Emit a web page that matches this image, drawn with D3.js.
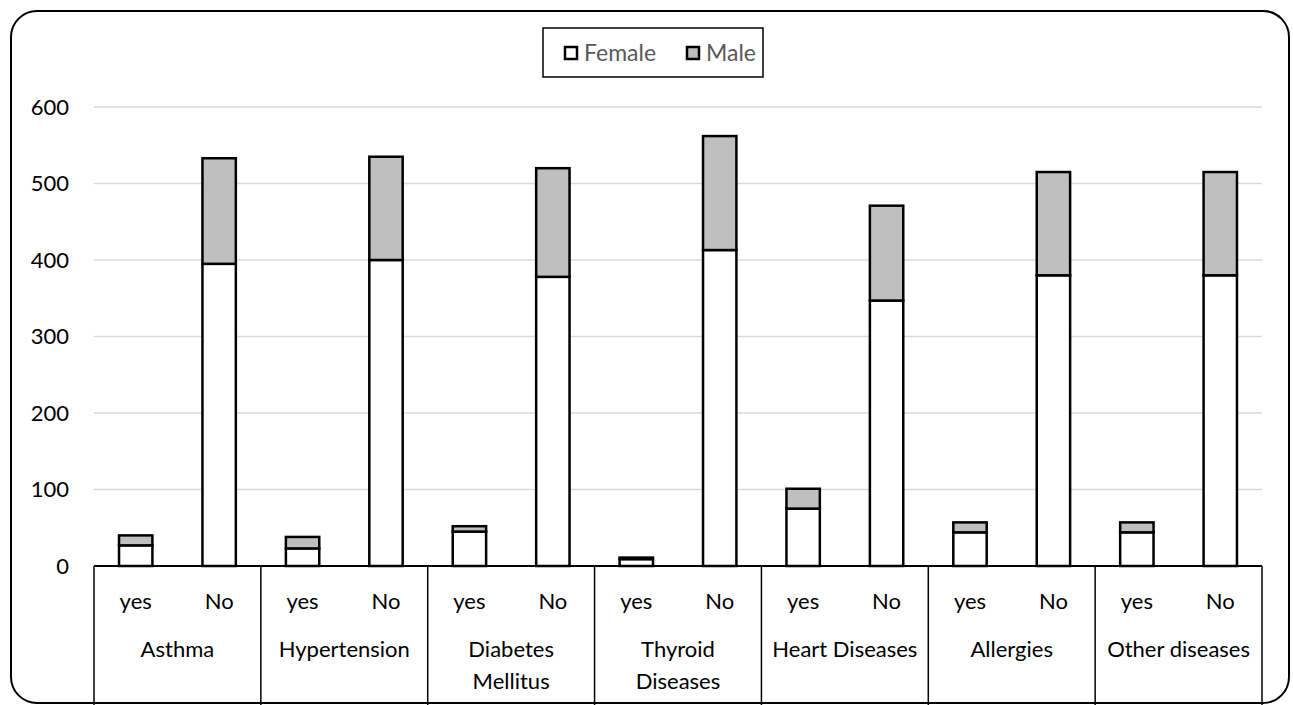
<!DOCTYPE html>
<html><head><meta charset="utf-8">
<script src="https://cdn.jsdelivr.net/npm/d3@7"></script>
<style>body{margin:0;background:#fff}svg{display:block}text{font-family:Lato,"Open Sans",sans-serif}</style>
</head><body>
<script>
const groups = ["Asthma","Hypertension","Diabetes Mellitus","Thyroid Diseases","Heart Diseases","Allergies","Other diseases"];
const groupLines = [["Asthma"],["Hypertension"],["Diabetes","Mellitus"],["Thyroid","Diseases"],["Heart Diseases"],["Allergies"],["Other diseases"]];
const answers = ["yes","No"];
const female = [27,395, 23,400, 45,378, 9,413, 75,347, 44,380, 44,380];
const male   = [13,138, 15,135, 7,142, 2,149, 26,124, 13,135, 13,135];
const yTicks = [0,100,200,300,400,500,600];
const seriesNames = ["Female","Male"];
const colors = ["#ffffff","#bfbfbf"];

const W=1293,H=705;
const svg=d3.select("body").append("svg").attr("width",W).attr("height",H);
svg.append("rect").attr("x",11).attr("y",11).attr("width",1278).attr("height",692).attr("rx",26)
  .attr("fill","#fff").attr("stroke","#000").attr("stroke-width",2);

const L=94,R=1262,T=107,B=566;
const y=d3.scaleLinear().domain([0,600]).range([B,T]);
const keys=[];groups.forEach((g,i)=>answers.forEach(a=>keys.push(i+"|"+a)));
const x=d3.scaleBand().domain(keys).range([L,R]).paddingInner(0.6).paddingOuter(0.3);
const gx=d3.scaleBand().domain(groups).range([L,R]);

// gridlines
svg.append("g").selectAll("line").data(yTicks.filter(d=>d>0)).join("line")
  .attr("x1",L).attr("x2",R).attr("y1",d=>y(d)).attr("y2",d=>y(d))
  .attr("stroke","#d9d9d9").attr("stroke-width",1.5);
// y labels
const ya=d3.axisLeft(y).tickValues(yTicks).tickSize(0).tickPadding(25);
const yg=svg.append("g").attr("transform",`translate(${L},0)`).call(ya);
yg.select(".domain").remove();
yg.selectAll("text").attr("font-size",22).attr("fill","#000").style("font-family","Lato,sans-serif");

// bars
const data=keys.map((k,i)=>({k,f:female[i],m:male[i]}));
const bars=svg.append("g");
bars.selectAll("rect.f").data(data).join("rect").attr("class","f")
  .attr("x",d=>x(d.k)).attr("width",x.bandwidth()).attr("y",d=>y(d.f)).attr("height",d=>y(0)-y(d.f))
  .attr("fill",colors[0]).attr("stroke","#000").attr("stroke-width",2.5);
bars.selectAll("rect.m").data(data).join("rect").attr("class","m")
  .attr("x",d=>x(d.k)).attr("width",x.bandwidth()).attr("y",d=>y(d.f+d.m)).attr("height",d=>y(d.f)-y(d.f+d.m))
  .attr("fill",colors[1]).attr("stroke","#000").attr("stroke-width",2.5);

// x axis
svg.append("line").attr("x1",L).attr("x2",R).attr("y1",B).attr("y2",B).attr("stroke","#000").attr("stroke-width",2);
const seps=groups.map(g=>gx(g)).concat([R]);
svg.append("g").selectAll("line").data(seps).join("line")
  .attr("x1",d=>d).attr("x2",d=>d).attr("y1",B).attr("y2",H).attr("stroke","#000").attr("stroke-width",1.5);
svg.append("g").selectAll("text").data(data).join("text")
  .attr("x",d=>x(d.k)+x.bandwidth()/2).attr("y",609).attr("text-anchor","middle")
  .attr("font-size",22).attr("fill","#000").text(d=>d.k.split("|")[1]);
const gl=svg.append("g").selectAll("text").data(groups).join("text")
  .attr("x",g=>gx(g)+gx.bandwidth()/2).attr("y",657).attr("text-anchor","middle")
  .attr("font-size",22).attr("fill","#000");
gl.selectAll("tspan").data((g,i)=>groupLines[i]).join("tspan")
  .attr("x",function(){return this.parentNode.getAttribute("x");}).attr("dy",(d,i)=>i?32:0).text(d=>d);

// legend
const lg=svg.append("g");
lg.append("rect").attr("x",543).attr("y",28).attr("width",220).attr("height",49).attr("fill","#fff").attr("stroke","#000").attr("stroke-width",1.5);
const lx=[565,687];
seriesNames.forEach((s,i)=>{
  lg.append("rect").attr("x",lx[i]).attr("y",47).attr("width",12).attr("height",12).attr("fill",colors[i]).attr("stroke","#000").attr("stroke-width",2.5);
  lg.append("text").attr("x",lx[i]+19).attr("y",61).attr("font-size",23).attr("fill","#595959").text(s);
});
</script>
</body></html>
